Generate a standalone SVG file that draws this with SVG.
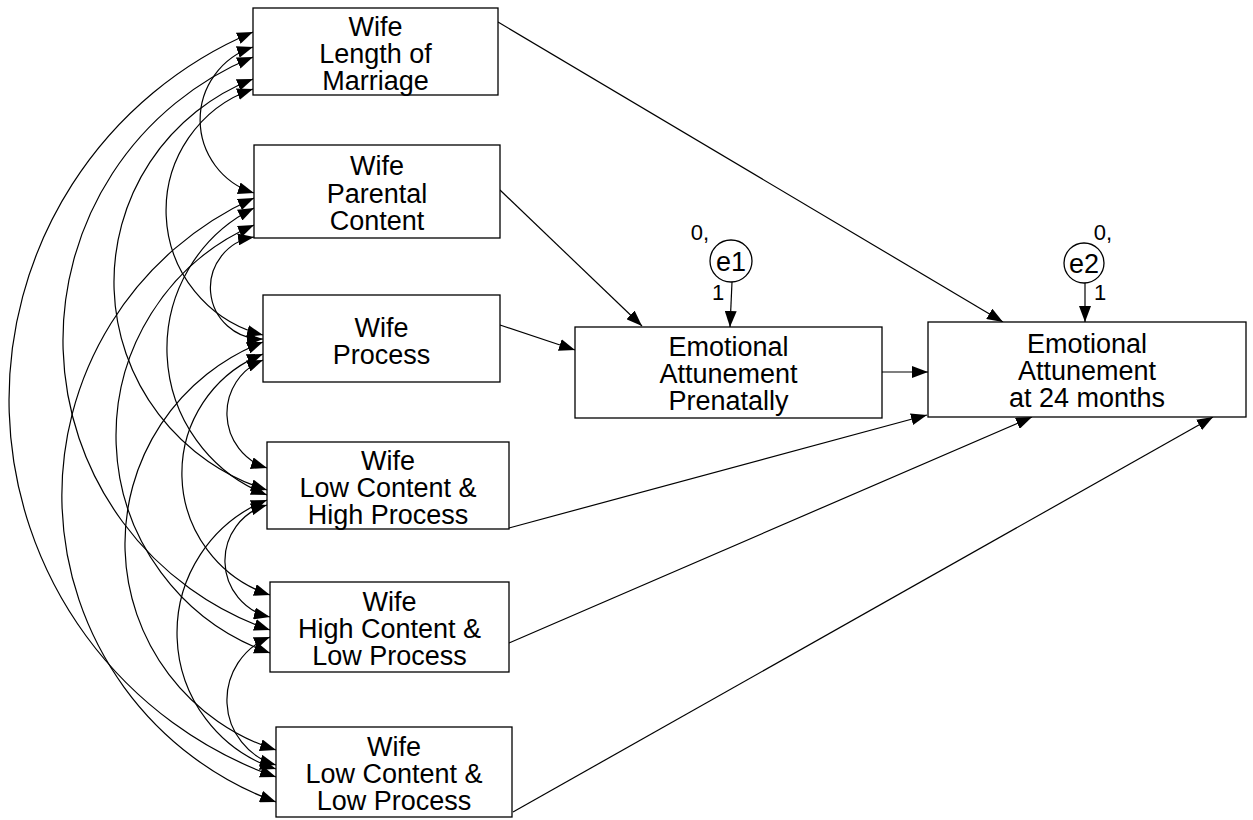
<svg xmlns="http://www.w3.org/2000/svg" width="1253" height="820" viewBox="0 0 1253 820">
<style>
.box{fill:#fff;stroke:#000;stroke-width:1.3}
.t{font-family:"Liberation Sans",Arial,sans-serif;font-size:27px;text-anchor:middle;fill:#000}
.s{font-family:"Liberation Sans",Arial,sans-serif;font-size:22px;text-anchor:middle;fill:#000}
.c{fill:none;stroke:#000;stroke-width:1.2;marker-start:url(#ah);marker-end:url(#ah)}
.l{fill:none;stroke:#000;stroke-width:1.2;marker-end:url(#ah)}
</style>
<defs>
<marker id="ah" viewBox="0 0 16 12" refX="16" refY="6" markerWidth="16" markerHeight="12" orient="auto-start-reverse" markerUnits="userSpaceOnUse"><path d="M0,0 L16,6 L0,12 z" fill="#000"/></marker>
</defs>
<rect width="1253" height="820" fill="#fff"/>
<g id="connectors">
<path class="c" d="M253,47 A76.6,76.6 0 0 0 254,193"/>
<path class="c" d="M253,89 A128.4,128.4 0 0 0 263,335"/>
<path class="c" d="M253,79 A217.8,217.8 0 0 0 267,490"/>
<path class="c" d="M253,57 A306.2,306.2 0 0 0 270,630"/>
<path class="c" d="M253,32 A399.6,399.6 0 0 0 276,777"/>
<path class="c" d="M254,237 A51.3,51.3 0 0 0 263,339"/>
<path class="c" d="M254,208 A157.1,157.1 0 0 0 267,495"/>
<path class="c" d="M254,225 A230.1,230.1 0 0 0 270,653"/>
<path class="c" d="M254,198 A326.4,326.4 0 0 0 276,802"/>
<path class="c" d="M263,360 A57.4,57.4 0 0 0 267,468"/>
<path class="c" d="M263,354 A128.2,128.2 0 0 0 270,595"/>
<path class="c" d="M263,342 A216.4,216.4 0 0 0 276,750"/>
<path class="c" d="M267,505 A57.8,57.8 0 0 0 270,617"/>
<path class="c" d="M267,500 A143.1,143.1 0 0 0 276,769"/>
<path class="c" d="M270,637 A67.6,67.6 0 0 0 276,765"/>
<path class="l" d="M498,22 L1003,322"/>
<path class="l" d="M500,190 L642,326"/>
<path class="l" d="M500,325 L575,350"/>
<path class="l" d="M882,372 L928,372"/>
<path class="l" d="M509,528 L927,415"/>
<path class="l" d="M509,643 L1032,417"/>
<path class="l" d="M513,812 L1213,417"/>
<path class="l" d="M732,282 L730,327"/>
<path class="l" d="M1085,283 L1085,322"/>
</g>
<g id="b1"><rect class="box" x="253" y="8" width="245" height="87"/><text class="t" x="375.5" y="36">Wife</text><text class="t" x="375.5" y="63">Length of</text><text class="t" x="375.5" y="90">Marriage</text></g>
<g id="b2"><rect class="box" x="254" y="145" width="246" height="93"/><text class="t" x="377" y="175">Wife</text><text class="t" x="377" y="203">Parental</text><text class="t" x="377" y="230">Content</text></g>
<g id="b3"><rect class="box" x="263" y="295" width="237" height="87"/><text class="t" x="381.5" y="337">Wife</text><text class="t" x="381.5" y="364">Process</text></g>
<g id="b4"><rect class="box" x="267" y="442" width="242" height="87"/><text class="t" x="388" y="470">Wife</text><text class="t" x="388" y="497">Low Content &amp;</text><text class="t" x="388" y="524">High Process</text></g>
<g id="b5"><rect class="box" x="270" y="582" width="239" height="90"/><text class="t" x="389.5" y="611">Wife</text><text class="t" x="389.5" y="638">High Content &amp;</text><text class="t" x="389.5" y="665">Low Process</text></g>
<g id="b6"><rect class="box" x="276" y="727" width="236" height="90"/><text class="t" x="394" y="756">Wife</text><text class="t" x="394" y="783">Low Content &amp;</text><text class="t" x="394" y="810">Low Process</text></g>
<g id="ep"><rect class="box" x="575" y="327" width="307" height="91"/><text class="t" x="728.5" y="356">Emotional</text><text class="t" x="728.5" y="383">Attunement</text><text class="t" x="728.5" y="410">Prenatally</text></g>
<g id="e24"><rect class="box" x="928" y="322" width="318" height="95"/><text class="t" x="1087" y="353">Emotional</text><text class="t" x="1087" y="380">Attunement</text><text class="t" x="1087" y="407">at 24 months</text></g>
<g id="e1"><circle class="box" cx="731" cy="261" r="21"/><text class="t" x="731" y="271">e1</text><text class="s" x="700" y="240">0,</text><text class="s" x="718" y="300">1</text></g>
<g id="e2"><circle class="box" cx="1084" cy="263" r="20"/><text class="t" x="1084" y="273">e2</text><text class="s" x="1103" y="240">0,</text><text class="s" x="1100" y="300">1</text></g>
</svg>
